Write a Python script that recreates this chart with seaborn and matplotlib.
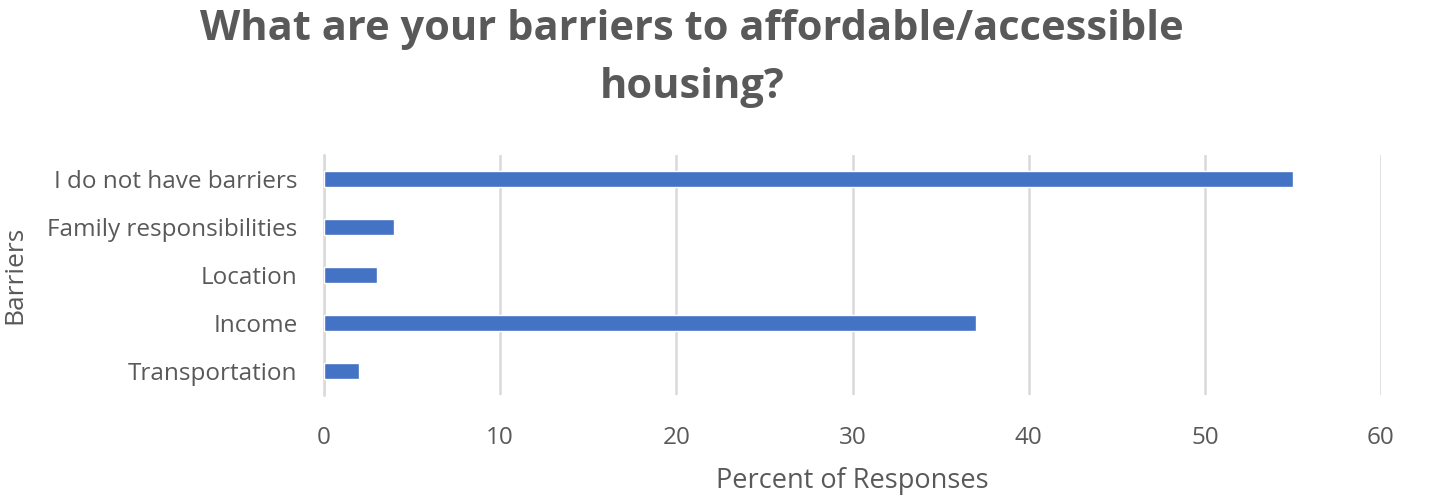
import matplotlib
matplotlib.use("Agg")
import matplotlib.pyplot as plt
import seaborn as sns
import pandas as pd

barriers = ["I do not have barriers", "Family responsibilities", "Location",
            "Income", "Transportation"]
percent = [55, 4, 3, 37, 2]
x_ticks = [0, 10, 20, 30, 40, 50, 60]

df = pd.DataFrame({"Barriers": barriers, "Percent": percent})

sns.set_theme(style="white")
plt.rcParams["font.family"] = ["Open Sans", "DejaVu Sans"]

W, H = 1429, 501
GREY = "#595959"
fig = plt.figure(figsize=(W / 100, H / 100), dpi=100)
ax = fig.add_axes([324 / W, 1 - 395 / H, (1381 - 324) / W, (395 - 155) / H])

sns.barplot(data=df, x="Percent", y="Barriers", order=barriers,
            color="#4472C4", saturation=1, width=0.33, ax=ax, zorder=3)

ax.set_xlim(0, 60)
ax.set_ylim(4.5, -0.5)
ax.set_xticks(x_ticks)
ax.xaxis.grid(True, color="#d9d9d9", linewidth=1.8, zorder=0)
ax.set_axisbelow(True)
for s in ["top", "right", "bottom"]:
    ax.spines[s].set_visible(False)
ax.spines["left"].set_color("#d9d9d9")
ax.spines["left"].set_linewidth(1.8)
ax.tick_params(axis="both", length=0, labelsize=17.5, labelcolor=GREY)
ax.tick_params(axis="x", pad=22)
ax.tick_params(axis="y", pad=19)

ax.set_xlabel("Percent of Responses", fontsize=19.5, color=GREY, va="center")
ax.xaxis.set_label_coords(0.5, (395 - 481) / 240)
ax.set_ylabel("Barriers", fontsize=19, color=GREY, va="center")
ax.yaxis.set_label_coords((15 - 324) / 1057, 0.5)

fig.text(692 / W, 1 - 30 / H, "What are your barriers to affordable/accessible",
         ha="center", va="center", fontsize=30, fontweight="bold", color=GREY)
fig.text(692 / W, 1 - 88 / H, "housing?",
         ha="center", va="center", fontsize=30, fontweight="bold", color=GREY)

fig.savefig("out.png", dpi=100, facecolor="white")
